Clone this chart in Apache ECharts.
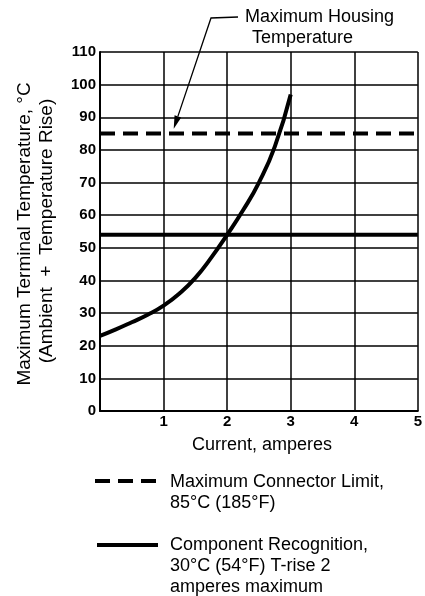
<!DOCTYPE html>
<html>
<head>
<meta charset="utf-8">
<script src="https://cdn.jsdelivr.net/npm/echarts@6/dist/echarts.min.js"></script>
<style>
  html, body { margin: 0; padding: 0; background: #fff; }
  #chart { width: 425px; height: 596px; }
</style>
</head>
<body>
<div id="chart"></div>
<script>
// data
const currentAmps = [0, 0.25, 0.5, 0.75, 1, 1.25, 1.5, 1.75, 2, 2.25, 2.5, 2.75, 3];
const terminalTemp = [23, 25, 27.2, 29.5, 32.3, 36, 40.8, 47, 54, 61.5, 70, 81, 97];
const connectorLimit = 85;      // dashed line
const recognitionLimit = 54;    // solid line
const xTicks = ['', '1', '2', '3', '4', '5'];

const FONT = '"Liberation Sans", Arial, Helvetica, sans-serif';

function initChart() {
  const chart = echarts.init(document.getElementById('chart'));

  const option = {
    backgroundColor: '#fff',
    animation: false,
    grid: { left: 100, right: 6, top: 52, bottom: 185 },
    xAxis: {
      type: 'value',
      min: 0,
      max: 5,
      interval: 1,
      axisLine: { lineStyle: { color: '#000', width: 2 } },
      axisTick: { show: false },
      splitLine: { lineStyle: { color: '#000', width: 1.5 } },
      axisLabel: {
        color: '#000',
        fontFamily: FONT,
        fontWeight: 'bold',
        fontSize: 15,
        margin: 3,
        formatter: v => xTicks[Math.round(v)]
      }
    },
    yAxis: {
      type: 'value',
      min: 0,
      max: 110,
      interval: 10,
      axisLine: { show: true, lineStyle: { color: '#000', width: 2 } },
      axisTick: { show: false },
      splitLine: { lineStyle: { color: '#000', width: 1.5 } },
      axisLabel: {
        color: '#000',
        fontFamily: FONT,
        fontWeight: 'bold',
        fontSize: 15,
        margin: 4
      }
    },
    series: [
      {
        name: 'Temperature',
        type: 'line',
        smooth: true,
        showSymbol: false,
        lineStyle: { color: '#000', width: 4 },
        data: currentAmps.map((x, i) => [x, terminalTemp[i]])
      },
      {
        name: 'Maximum Connector Limit',
        type: 'line',
        showSymbol: false,
        lineStyle: { color: '#000', width: 4, type: [15, 8] },
        data: [[0, connectorLimit], [5, connectorLimit]]
      },
      {
        name: 'Component Recognition',
        type: 'line',
        showSymbol: false,
        lineStyle: { color: '#000', width: 4 },
        data: [[0, recognitionLimit], [5, recognitionLimit]]
      }
    ]
  };
  chart.setOption(option);

  // arrow tip sits just above the dashed line
  const tip = chart.convertToPixel({ gridIndex: 0 }, [1.16, connectorLimit + 1.5]);
  const bend = [211, 18];
  const dx = tip[0] - bend[0], dy = tip[1] - bend[1];
  const len = Math.sqrt(dx * dx + dy * dy);
  const ux = dx / len, uy = dy / len;
  const hl = 13, hw = 3.5;
  const base = [tip[0] - ux * hl, tip[1] - uy * hl];

  const txt = (x, y, s, extra) => ({
    type: 'text', x, y,
    style: Object.assign({ text: s, fill: '#000', font: '18px ' + FONT, textVerticalAlign: 'middle' }, extra || {})
  });

  chart.setOption({
    graphic: [
      // y axis title, two rotated lines
      {
        type: 'text', x: 25, y: 234, rotation: Math.PI / 2,
        style: { text: 'Maximum Terminal Temperature, °C', fill: '#000', font: '19px ' + FONT, textAlign: 'center', textVerticalAlign: 'middle' }
      },
      {
        type: 'text', x: 47, y: 231, rotation: Math.PI / 2,
        style: { text: '(Ambient  +  Temperature Rise)', fill: '#000', font: '19px ' + FONT, textAlign: 'center', textVerticalAlign: 'middle' }
      },
      // x axis title
      txt(262, 445, 'Current, amperes', { textAlign: 'center' }),
      // annotation
      txt(245, 17, 'Maximum Housing'),
      txt(252, 38, 'Temperature'),
      {
        type: 'polyline',
        shape: { points: [[238, 17], bend, base] },
        style: { stroke: '#000', lineWidth: 1.3, fill: null }
      },
      {
        type: 'polygon',
        shape: { points: [tip, [base[0] - uy * hw, base[1] + ux * hw], [base[0] + uy * hw, base[1] - ux * hw]] },
        style: { fill: '#000' }
      },
      // legend
      {
        type: 'line',
        shape: { x1: 95, y1: 481, x2: 158, y2: 481 },
        style: { stroke: '#000', lineWidth: 4, lineDash: [15, 8] }
      },
      txt(170, 482, 'Maximum Connector Limit,'),
      txt(170, 503, '85°C (185°F)'),
      {
        type: 'line',
        shape: { x1: 97, y1: 545, x2: 158, y2: 545 },
        style: { stroke: '#000', lineWidth: 4 }
      },
      txt(170, 545, 'Component Recognition,'),
      txt(170, 566, '30°C (54°F) T-rise 2'),
      txt(170, 587, 'amperes maximum')
    ]
  });
}

document.addEventListener('DOMContentLoaded', initChart);
</script>
</body>
</html>
